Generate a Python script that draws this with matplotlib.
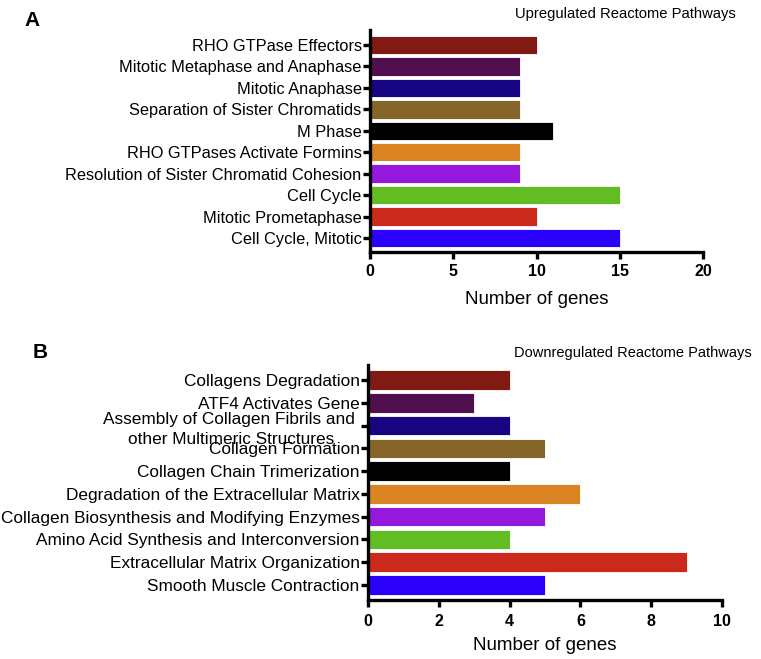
import numpy as np
import matplotlib.pyplot as plt

plt.rcParams['font.family'] = ['Liberation Sans', 'DejaVu Sans']

up_pathways = ['RHO GTPase Effectors', 'Mitotic Metaphase and Anaphase', 'Mitotic Anaphase',
               'Separation of Sister Chromatids', 'M Phase', 'RHO GTPases Activate Formins',
               'Resolution of Sister Chromatid Cohesion', 'Cell Cycle', 'Mitotic Prometaphase',
               'Cell Cycle, Mitotic']
up_genes = [10, 9, 9, 9, 11, 9, 9, 15, 10, 15]

down_pathways = ['Collagens Degradation', 'ATF4 Activates Gene',
                 'Assembly of Collagen Fibrils and \nother Multimeric Structures',
                 'Collagen Formation', 'Collagen Chain Trimerization',
                 'Degradation of the Extracellular Matrix',
                 'Collagen Biosynthesis and Modifying Enzymes',
                 'Amino Acid Synthesis and Interconversion',
                 'Extracellular Matrix Organization', 'Smooth Muscle Contraction']
down_genes = [4, 3, 4, 5, 4, 6, 5, 4, 9, 5]

bar_colors = ['#821a14', '#520f4f', '#170480', '#856628', '#000000',
              '#da8423', '#9519dd', '#61bd21', '#cb291c', '#2b00f8']


def draw_panel(ax, names, values, xmax, step, pad_bottom, pad_top, label_size, tick_pad, xlabel_pad):
    n = len(names)
    y = np.arange(n)
    ax.barh(y, values, height=0.86, color=bar_colors, edgecolor='white', linewidth=0.6)
    ax.set_ylim(n - 1 + pad_bottom, -pad_top)
    ax.set_xlim(0, xmax)
    ax.set_xticks(np.arange(0, xmax + 1, step))
    ax.set_yticks(y)
    ax.set_yticklabels(names, fontsize=label_size)
    for lab in ax.get_yticklabels():
        lab.set_multialignment('center')
        lab.set_linespacing(1.4)
    for lab in ax.get_xticklabels():
        lab.set_fontweight('bold')
    ax.tick_params(axis='x', labelsize=11.5, length=5, width=2.4, pad=tick_pad)
    ax.tick_params(axis='y', length=5, width=2.4, pad=1)
    ax.spines['top'].set_visible(False)
    ax.spines['right'].set_visible(False)
    ax.spines['left'].set_linewidth(2.4)
    ax.spines['bottom'].set_linewidth(2.4)
    ax.set_xlabel('Number of genes', fontsize=13.5, labelpad=xlabel_pad)


fig = plt.figure(figsize=(7.61, 6.59), dpi=100)

ax1 = fig.add_axes([370 / 761, 1 - 252 / 659, 333 / 761, 222 / 659])
draw_panel(ax1, up_pathways, up_genes, 20, 5, 0.65, 0.7, 11.8, 4, 8)

ax2 = fig.add_axes([368 / 761, 1 - 600 / 659, 354 / 761, 235 / 659])
draw_panel(ax2, down_pathways, down_genes, 10, 2, 0.66, 0.66, 12.4, 5, 6)

fig.text(24 / 761, 1 - 20 / 659, 'A', fontsize=15, fontweight='bold', va='center')
fig.text(736 / 761, 1 - 14 / 659, 'Upregulated Reactome Pathways', fontsize=10.6, ha='right', va='center')
fig.text(33 / 761, 1 - 353 / 659, 'B', fontsize=15, fontweight='bold', va='center')
fig.text(752 / 761, 1 - 353 / 659, 'Downregulated Reactome Pathways', fontsize=10.5, ha='right', va='center')

fig.savefig('out.png', dpi=100)
